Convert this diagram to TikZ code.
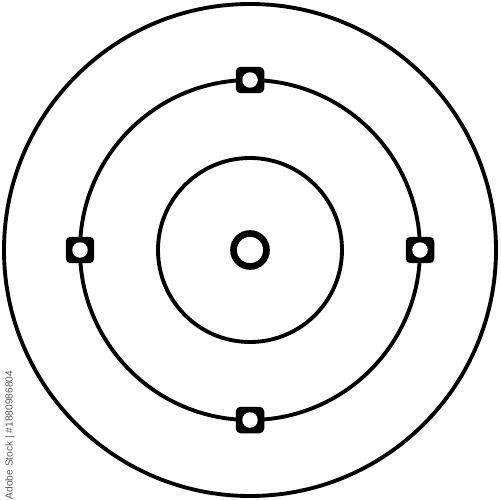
\documentclass[tikz,border=0pt]{standalone}
\usepackage{fontspec}
\setsansfont{Liberation Sans}
\usetikzlibrary{calc}
\tikzset{
  ring/.style={draw=black, line width=2.2pt},
  port/.style={fill=black, rounded corners=2.6pt, minimum width=0.57cm, minimum height=0.53cm, inner sep=0pt},
  hole/.style={fill=white, circle, minimum size=0.31cm, inner sep=0pt}
}
\begin{document}
\begin{tikzpicture}[x=0.02cm, y=-0.02cm]
  \useasboundingbox (0,0) rectangle (500,500);
  \coordinate (C) at (250,250);
  \draw[ring] (C) circle (246);
  \draw[ring] (C) circle (170);
  \draw[ring] (C) circle (92);
  \draw[draw=black, line width=3.8pt] (C) circle (16.5);
  % ports on the middle orbit
  \foreach \name/\ang in {top/90, left/180, bottom/270, right/0} {
    \node[port] (\name) at ($(C)+(\ang:170)$) {};
    \node[hole] at (\name) {};
  }
  \node[rotate=90, text=black!65, font=\sffamily\fontsize{5.8}{7}\selectfont, inner sep=0pt] (stock) at (10,435) {Adobe Stock | \#1880986804};
\end{tikzpicture}
\end{document}
